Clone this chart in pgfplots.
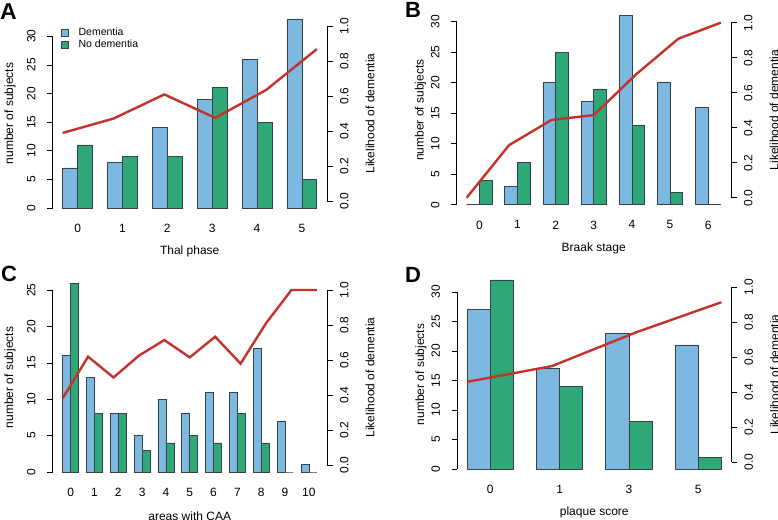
\documentclass[border=0pt]{standalone}
\usepackage{fontspec}
\setmainfont{Liberation Sans}
\usepackage{pgfplots}
\pgfplotsset{compat=1.18}
\usepackage{pgfplotstable}

\definecolor{demblue}{HTML}{7DB8E0}
\definecolor{nodgreen}{HTML}{2EA876}
\definecolor{barline}{HTML}{35424C}
\definecolor{likred}{HTML}{C4322B}

% idx = group position, dem / nodem = number of subjects, lik = likelihood of dementia
\pgfplotstableread{
idx dem nodem lik
0   7   11   0.389
1   8    9   0.471
2  14    9   0.609
3  19   21   0.475
4  26   15   0.634
5  33    5   0.868
}\thal

\pgfplotstableread{
idx dem nodem lik
0   0    4   0.000
1   3    7   0.300
2  20   25   0.444
3  17   19   0.472
4  31   13   0.705
5  20    2   0.909
6  16    0   1.000
}\braak

\pgfplotstableread{
idx dem nodem lik
0  16   26   0.381
1  13    8   0.619
2   8    8   0.500
3   5    3   0.625
4  10    4   0.714
5   8    5   0.615
6  11    4   0.733
7  11    8   0.579
8  17    4   0.810
9   7    0   1.000
10  1    0   1.000
}\caa

\pgfplotstableread{
idx dem nodem lik
0  27   32   0.458
1  17   14   0.548
2  23    8   0.742
3  21    2   0.913
}\plaque

\pgfplotsset{
  panel/.style={
    scale only axis, width=274.5pt, height=189pt, anchor=south west,
    axis line style={draw=none}, tick align=outside, major tick length=5.5pt,
    tick style={black, line width=0.6pt},
    /pgf/number format/assume math mode=true,
    tick label style={font=\fontsize{12}{14}\selectfont},
    label style={font=\fontsize{12}{14}\selectfont},
    clip=false,
  },
  barpanel/.style={
    panel, axis x line*=bottom, axis y line*=left, ymin=0,
    xtick style={draw=none}, xticklabel shift=7pt,
    yticklabel style={rotate=90, anchor=south}, yticklabel shift=8pt,
    ylabel={number of subjects},
    xlabel style={at={(axis description cs:0.5,-0.232)}, anchor=center},
  },
  linepanel/.style={
    panel, axis x line=none, axis y line*=right, ymin=-0.04, ymax=1.04,
    ytick={0,0.2,0.4,0.6,0.8,1},
    yticklabel style={rotate=90, anchor=north,
      /pgf/number format/fixed, /pgf/number format/fixed zerofill,
      /pgf/number format/precision=1},
    yticklabel shift=4pt,
    ylabel={Likelihood of dementia},
    ylabel style={at={(axis description cs:1.157,0.5)}, anchor=center},
  },
  dembar/.style={ybar, bar width=1, bar shift=0pt, fill=demblue, draw=barline, line width=0.7pt},
  nodbar/.style={ybar, bar width=1, bar shift=0pt, fill=nodgreen, draw=barline, line width=0.7pt},
  likline/.style={likred, line width=2.4pt, mark=none},
}

\begin{document}
\begin{tikzpicture}
\useasboundingbox (0pt,0pt) rectangle (778pt,519pt);

% ---------------- A ----------------
\begin{axis}[barpanel, at={(52.5pt,311pt)},
    xmin=0.32, xmax=18.68, ymax=33,
    ytick={0,5,...,30}, xtick={2,5,8,11,14,17}, xticklabels={0,1,2,3,4,5},
    xlabel={Thal phase},
    ylabel style={at={(axis description cs:-0.155,0.5)}, anchor=center},
    legend cell align=left,
    legend style={at={(axis description cs:0.03,0.965)}, anchor=north west,
      draw=none, fill=none, font=\fontsize{10.5}{12}\selectfont, inner sep=0pt, row sep=-1pt,
      /tikz/every odd column/.append style={column sep=8pt}},
    legend image code/.code={\draw[#1] (0pt,-3.5pt) rectangle (7pt,3.5pt);},
  ]
  \addplot[dembar] table[x expr=3*\thisrow{idx}+1.5, y=dem] {\thal};
  \addlegendentry{Dementia}
  \addplot[nodbar] table[x expr=3*\thisrow{idx}+2.5, y=nodem] {\thal};
  \addlegendentry{No dementia}
  \draw[black, line width=0.6pt] (rel axis cs:0,0) -- ({rel axis cs:0,0}|-{axis cs:0,30});
\end{axis}
\begin{axis}[linepanel, at={(52.5pt,311pt)}, xmin=0.8, xmax=6.2]
  \addplot[likline] table[x expr=\thisrow{idx}+1, y=lik] {\thal};
  \draw[black, line width=0.6pt] ({rel axis cs:1,0}|-{axis cs:0,0}) -- ({rel axis cs:1,0}|-{axis cs:0,1});
\end{axis}

% ---------------- B ----------------
\begin{axis}[barpanel, at={(456.5pt,314.3pt)},
    xmin=0.2, xmax=21.8, ymax=31,
    ytick={0,5,...,30}, xtick={2,5,8,11,14,17,20}, xticklabels={0,1,2,3,4,5,6},
    xlabel={Braak stage},
    ylabel style={at={(axis description cs:-0.131,0.5)}, anchor=center},
  ]
  \addplot[dembar] table[x expr=3*\thisrow{idx}+1.5, y=dem] {\braak};
  \addplot[nodbar] table[x expr=3*\thisrow{idx}+2.5, y=nodem] {\braak};
  \draw[black, line width=0.6pt] (rel axis cs:0,0) -- ({rel axis cs:0,0}|-{axis cs:0,30});
\end{axis}
\begin{axis}[linepanel, at={(456.5pt,314.3pt)}, xmin=0.76, xmax=7.24]
  \addplot[likline] table[x expr=\thisrow{idx}+1, y=lik] {\braak};
  \draw[black, line width=0.6pt] ({rel axis cs:1,0}|-{axis cs:0,0}) -- ({rel axis cs:1,0}|-{axis cs:0,1});
\end{axis}

% ---------------- C ----------------
\begin{axis}[barpanel, at={(52.5pt,47pt)},
    xmin=-0.28, xmax=34.28, ymax=26,
    ytick={0,5,...,25}, xtick={2,5,...,32}, xticklabels={0,1,2,3,4,5,6,7,8,9,10},
    xlabel={areas with CAA},
    ylabel style={at={(axis description cs:-0.155,0.5)}, anchor=center},
  ]
  \addplot[dembar] table[x expr=3*\thisrow{idx}+1.5, y=dem] {\caa};
  \addplot[nodbar] table[x expr=3*\thisrow{idx}+2.5, y=nodem] {\caa};
  \draw[black, line width=0.6pt] (rel axis cs:0,0) -- ({rel axis cs:0,0}|-{axis cs:0,25});
\end{axis}
\begin{axis}[linepanel, at={(52.5pt,47pt)}, xmin=0.6, xmax=11.4]
  \addplot[likline] table[x expr=\thisrow{idx}+1, y=lik] {\caa};
  \draw[black, line width=0.6pt] ({rel axis cs:1,0}|-{axis cs:0,0}) -- ({rel axis cs:1,0}|-{axis cs:0,1});
\end{axis}

% ---------------- D ----------------
\begin{axis}[barpanel, at={(457pt,50pt)},
    xmin=0.56, xmax=12.44, ymax=32,
    ytick={0,5,...,30}, xtick={2,5,8,11}, xticklabels={0,1,3,5},
    xlabel={plaque score},
    ylabel style={at={(axis description cs:-0.131,0.5)}, anchor=center},
  ]
  \addplot[dembar] table[x expr=3*\thisrow{idx}+1.5, y=dem] {\plaque};
  \addplot[nodbar] table[x expr=3*\thisrow{idx}+2.5, y=nodem] {\plaque};
  \draw[black, line width=0.6pt] (rel axis cs:0,0) -- ({rel axis cs:0,0}|-{axis cs:0,30});
\end{axis}
\begin{axis}[linepanel, at={(457pt,50pt)}, xmin=0.88, xmax=4.12]
  \addplot[likline] table[x expr=\thisrow{idx}+1, y=lik] {\plaque};
  \draw[black, line width=0.6pt] ({rel axis cs:1,0}|-{axis cs:0,0}) -- ({rel axis cs:1,0}|-{axis cs:0,1});
\end{axis}

% panel letters
\node[anchor=base west, font=\fontsize{23}{25}\selectfont\bfseries, inner sep=0pt] at (0pt,499pt) {A};
\node[anchor=base west, font=\fontsize{22}{24}\selectfont\bfseries, inner sep=0pt] at (405pt,501pt) {B};
\node[anchor=base west, font=\fontsize{22}{24}\selectfont\bfseries, inner sep=0pt] at (1pt,237.3pt) {C};
\node[anchor=base west, font=\fontsize{22}{24}\selectfont\bfseries, inner sep=0pt] at (405pt,236.7pt) {D};
\end{tikzpicture}
\end{document}
